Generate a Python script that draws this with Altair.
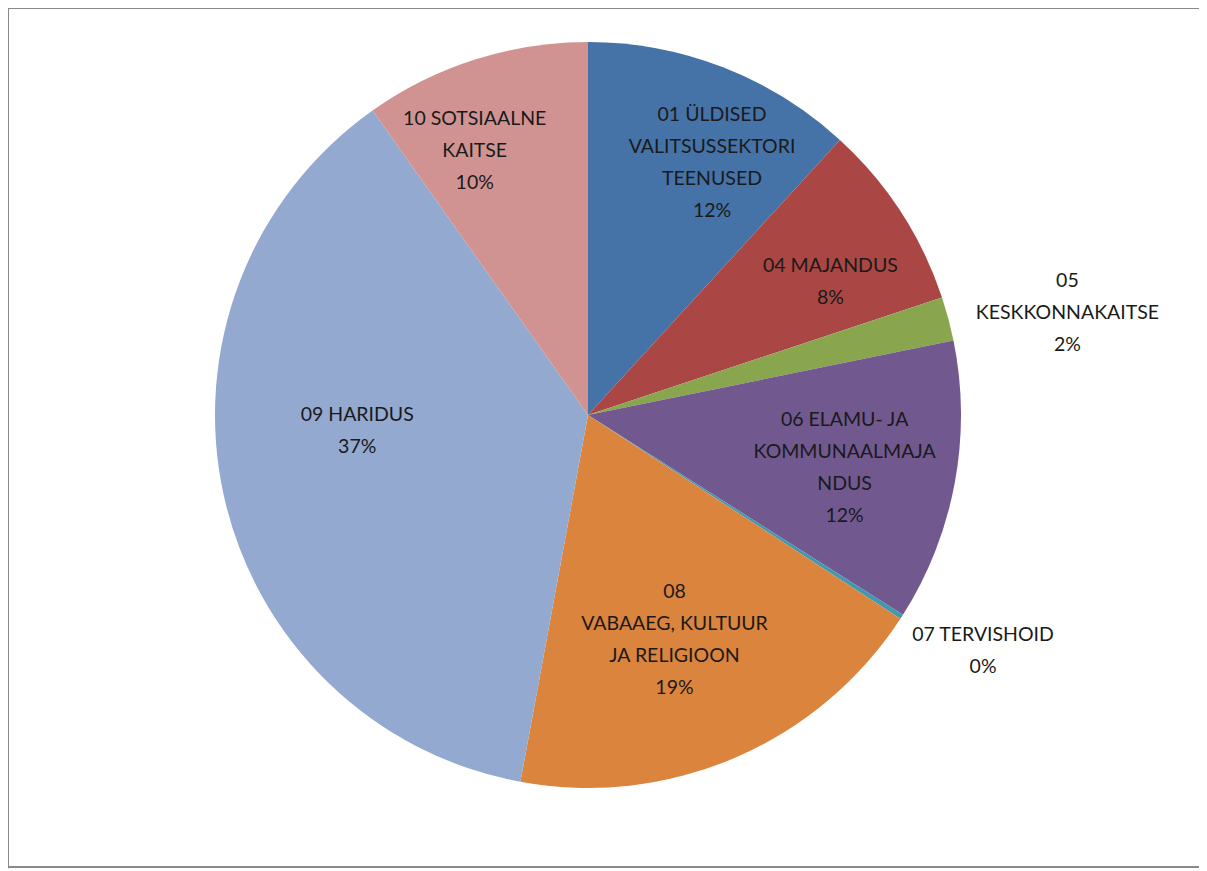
import altair as alt
import pandas as pd

categories = [
    "01 ÜLDISED\nVALITSUSSEKTORI\nTEENUSED",
    "04 MAJANDUS",
    "05\nKESKKONNAKAITSE",
    "06 ELAMU- JA\nKOMMUNAALMAJA\nNDUS",
    "07 TERVISHOID",
    "08\nVABAAEG, KULTUUR\nJA RELIGIOON",
    "09 HARIDUS",
    "10 SOTSIAALNE\nKAITSE",
]
values = [11.8, 8.1, 1.9, 12.2, 0.2, 18.7, 37.3, 9.8]

palette = ["#4572A7", "#AA4643", "#89A54E", "#71588F", "#4198AF",
           "#DB843D", "#93A9CF", "#D19392"]

total = sum(values)
labels = [f"{c}\n{round(v / total * 100)}%" for c, v in zip(categories, values)]
df = pd.DataFrame({
    "idx": list(range(len(categories))),
    "cat": categories,
    "value": values,
    "label": labels,
})

CX, CY, R = 580, 407, 373
W, H = 1191, 861
LH = 32

base = alt.Chart(df).encode(
    theta=alt.Theta("value:Q", stack=True),
    order=alt.Order("idx:Q"),
)

pie = base.mark_arc(x=CX, y=CY, outerRadius=R).encode(
    color=alt.Color("idx:N", scale=alt.Scale(domain=list(range(len(categories))), range=palette), legend=None)
)

one = pd.DataFrame({"k": [0]})
frame_style = dict(stroke="#8a8a8a", strokeWidth=2)
top = alt.Chart(one).mark_rule(**frame_style).encode(
    x=alt.value(0), x2=alt.value(W + 10), y=alt.value(0))
left = alt.Chart(one).mark_rule(**frame_style).encode(
    x=alt.value(0), y=alt.value(0), y2=alt.value(859))
bottom = alt.Chart(one).mark_rule(**frame_style).encode(
    x=alt.value(0), x2=alt.value(W + 10), y=alt.value(859))

# label placement tweaks (radius, dx, dy) per slice, dy for block centre
place = [
    (265, 28, -5),
    (265, 20, 11),
    (490, 6, 24),
    (265, -4, 5),
    (490, -17, -29),
    (265, -18, -19),
    (265, 28, -41),
    (265, -33, -11),
]

layers = [top, left, bottom, pie]
for i, (r, dx, dy) in enumerate(place):
    n = labels[i].count("\n") + 1
    layers.append(
        base.mark_text(
            x=CX, y=CY, radius=r, dx=dx, dy=dy - (n - 1) * LH / 2,
            font="Lato", fontSize=19.5, lineHeight=LH, lineBreak="\n",
            color="#1a1a1a", align="center", baseline="middle",
        ).encode(
            text=alt.condition(f"datum.idx == {i}", alt.Text("label:N"), alt.value(""))
        )
    )

chart = alt.layer(*layers).properties(
    width=W, height=H, padding=0, autosize=alt.AutoSizeParams(type="none")
).configure_view(stroke=None, strokeWidth=0).configure(background="white")

chart.save("out.html", embed_options={"renderer": "svg", "actions": False})
